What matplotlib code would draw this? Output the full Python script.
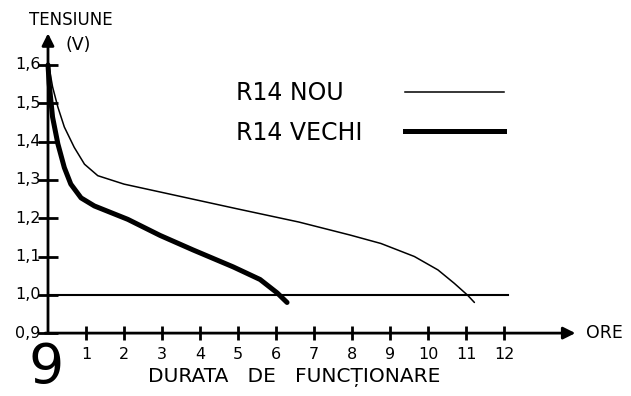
import numpy as np
import matplotlib.pyplot as plt

# ore de functionare / tensiune (V)
ore_nou = [0, 0.12, 0.26, 0.43, 0.69, 0.96, 1.31, 2.0, 2.97, 3.8, 5.0, 6.6, 7.95, 8.76, 9.64, 10.26, 10.69, 11.04, 11.22]
v_nou = [1.61, 1.543, 1.49, 1.438, 1.385, 1.341, 1.311, 1.289, 1.268, 1.25, 1.224, 1.19, 1.156, 1.134, 1.1, 1.065, 1.03, 0.999, 0.98]

ore_vechi = [0, 0.03, 0.12, 0.26, 0.43, 0.6, 0.87, 1.22, 2.1, 2.95, 3.82, 4.87, 5.58, 6.03, 6.29]
v_vechi = [1.60, 1.552, 1.464, 1.394, 1.332, 1.289, 1.253, 1.232, 1.197, 1.155, 1.117, 1.073, 1.04, 1.005, 0.98]

x_ticks = list(range(1, 13))
y_ticks = [0.9, 1.0, 1.1, 1.2, 1.3, 1.4, 1.5, 1.6]
y_labels = ['0,9', '1,0', '1,1', '1,2', '1,3', '1,4', '1,5', '1,6']

fig = plt.figure(figsize=(6.31, 3.96), dpi=100)
ax = fig.add_axes([0, 0, 1, 1])
ax.set_xlim(-1.263, 15.34)
ax.set_ylim(0.7358, 1.7697)
ax.axis('off')

# axe cu sageti
ax.annotate('', xy=(0, 1.69), xytext=(0, 0.895),
            arrowprops=dict(arrowstyle='-|>', lw=2, color='black', mutation_scale=18))
ax.annotate('', xy=(13.95, 0.9), xytext=(-0.15, 0.9),
            arrowprops=dict(arrowstyle='-|>', lw=2, color='black', mutation_scale=18))

# gradatii
ax.plot([0] * len(y_ticks), y_ticks, ls='none', marker='_', ms=14, mew=2, color='black')
ax.plot(x_ticks, [0.9] * len(x_ticks), ls='none', marker='|', ms=10, mew=2, color='black')
for y, lab in zip(y_ticks, y_labels):
    ax.text(-0.2, y, lab, ha='right', va='center', fontsize=11.5)
for x in x_ticks:
    ax.text(x, 0.843, str(x), ha='center', va='center', fontsize=11.5)

# limita de 1,0 V
ax.plot([0, 12.1], [1.0, 1.0], color='black', lw=1.5)

ax.plot(ore_nou, v_nou, color='black', lw=1.1, solid_capstyle='round', solid_joinstyle='round')
ax.plot(ore_vechi, v_vechi, color='black', lw=3.6, solid_capstyle='round', solid_joinstyle='round')

# legenda
ax.text(4.95, 1.527, 'R14 NOU', ha='left', va='center', fontsize=17)
ax.text(4.95, 1.423, 'R14 VECHI', ha='left', va='center', fontsize=17)
ax.plot([9.4, 12.0], [1.53, 1.53], color='black', lw=1.1)
ax.plot([9.4, 12.0], [1.428, 1.428], color='black', lw=3.6)

ax.text(0.6, 1.717, 'TENSIUNE', ha='center', va='center', fontsize=12)
ax.text(0.8, 1.652, '(V)', ha='center', va='center', fontsize=12.5)
ax.text(14.15, 0.9, 'ORE', ha='left', va='center', fontsize=12.5)
ax.text(6.47, 0.783, 'DURATA   DE   FUNCȚIONARE', ha='center', va='center', fontsize=14.5)
ax.text(-0.05, 0.7375, '9', ha='center', va='bottom', fontsize=40)

fig.savefig('out.png', dpi=100)
